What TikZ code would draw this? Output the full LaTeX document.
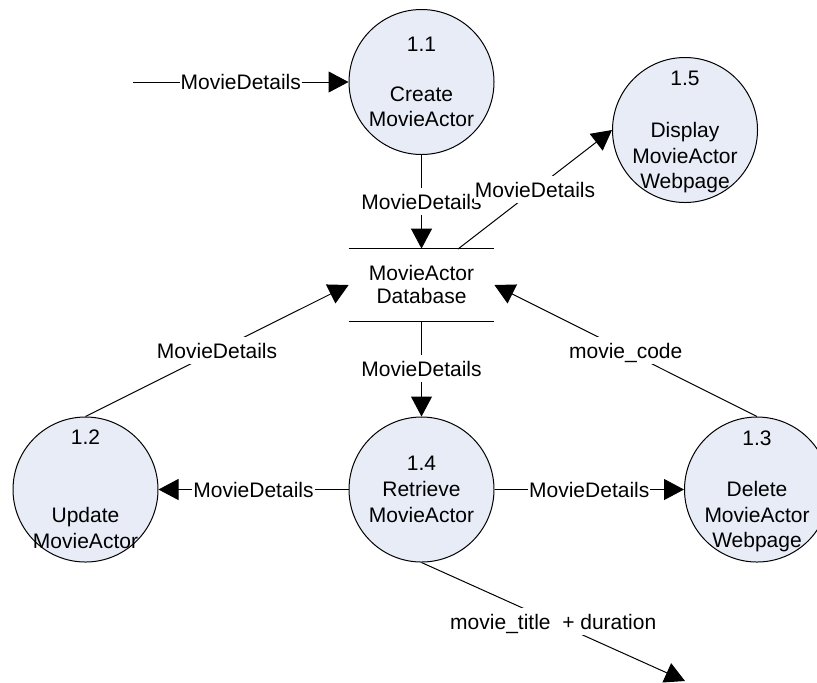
\documentclass[tikz,border=0pt]{standalone}
\usepackage{fontspec}
\setmainfont{Liberation Sans}
\usetikzlibrary{arrows.meta}
\definecolor{procfill}{RGB}{231,236,247}
\begin{document}
\begin{tikzpicture}[x=0.5pt,y=-0.5pt,
  every node/.style={font=\fontsize{10.5pt}{12.5pt}\selectfont},
  proc/.style={circle, draw=black, line width=0.5pt, fill=procfill,
    minimum size=72.5pt, inner sep=0pt},
  store/.style={rectangle, minimum width=72.5pt, minimum height=36pt, inner sep=0pt},
  txt/.style={inner sep=0pt, text height=7.5pt, text depth=0pt},
  lbl/.style={fill=white, inner xsep=0.5pt, inner ysep=3pt,
    text height=7.5pt, text depth=0pt},
  flow/.style={line width=0.5pt, -{Triangle[length=10pt,width=10.5pt]}},
  rule/.style={line width=0.5pt}
]
\useasboundingbox (0,0) rectangle (817,682);
\clip (0,0) rectangle (817,682);

% processes
\node[proc] (p11) at (421.5,82) {};
\node[proc] (p15) at (685,130) {};
\node[proc] (p12) at (85.5,489.5) {};
\node[proc] (p14) at (421.5,489.5) {};
\node[proc] (p13) at (757,489.5) {};

% data store
\node[store] (db) at (421.5,285) {};
\draw[rule] (db.north west) -- (db.north east);
\draw[rule] (db.south west) -- (db.south east);
\node[txt] (dbA) at (421.5,272.5) {MovieActor};
\node[txt] (dbB) at (421.5,296) {Database};

% process texts
\node[txt] (t11a) at (421.5,44) {1.1};
\node[txt] (t11b) at (421.5,94) {Create};
\node[txt] (t11c) at (421.5,119) {MovieActor};

\node[txt] (t15a) at (685,78) {1.5};
\node[txt] (t15b) at (685,130) {Display};
\node[txt] (t15c) at (685,155.5) {MovieActor};
\node[txt] (t15d) at (685,181) {Webpage};

\node[txt] (t12a) at (85.5,437) {1.2};
\node[txt] (t12b) at (85.5,515) {Update};
\node[txt] (t12c) at (85.5,541) {MovieActor};

\node[txt] (t14a) at (421.5,463) {1.4};
\node[txt] (t14b) at (421.5,489) {Retrieve};
\node[txt] (t14c) at (421.5,515) {MovieActor};

\node[txt] (t13a) at (757,438) {1.3};
\node[txt] (t13b) at (757,489) {Delete};
\node[txt] (t13c) at (757,515) {MovieActor};
\node[txt] (t13d) at (757,540) {Webpage};

% free ends of flows
\coordinate (src) at (133,82);
\coordinate (dbout) at (458,249);
\coordinate (sink) at (685,681);

% data flows
\draw[flow] (src) -- (p11.west) node[lbl, midway] (l1) {MovieDetails};
\draw[flow] (p11.south) -- (db.north) node[lbl, midway] (l2) {MovieDetails};
\draw[flow] (dbout) -- (p15.west) node[lbl, midway] (l3) {MovieDetails};
\draw[flow] (p12.north) -- (db.west) node[lbl, midway] (l4) {MovieDetails};
\draw[flow] (p13.north) -- (db.east) node[lbl, midway] (l5) {movie\_code};
\draw[flow] (db.south) -- (p14.north) node[lbl, midway] (l6) {MovieDetails};
\draw[flow] (p14.west) -- (p12.east) node[lbl, midway] (l7) {MovieDetails};
\draw[flow] (p14.east) -- (p13.west) node[lbl, midway] (l8) {MovieDetails};
\draw[flow] (p14.south) -- (sink) node[lbl, midway] (l9) {movie\_title\ \ + duration};
\end{tikzpicture}
\end{document}
